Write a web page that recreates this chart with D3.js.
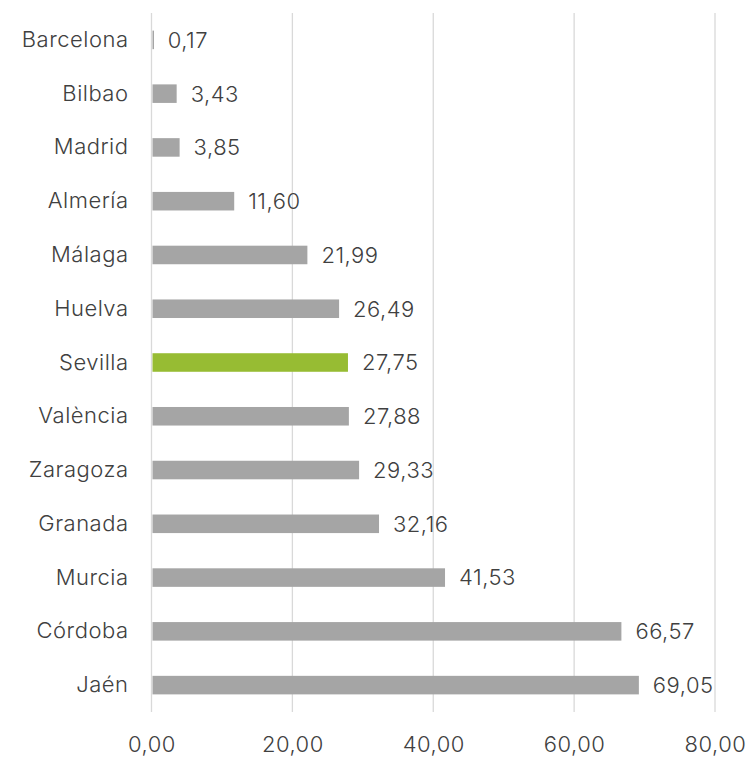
<!DOCTYPE html>
<html>
<head>
<meta charset="utf-8">
<script src="https://cdn.jsdelivr.net/npm/d3@7"></script>
<style>
  body { margin: 0; background: #fff; }
  text { font-family: Inter, "Open Sans", sans-serif; font-weight: 300; fill: #404040; letter-spacing: 0.5px; }
</style>
</head>
<body>
<div id="chart"></div>
<script>
var cities = ["Barcelona", "Bilbao", "Madrid", "Almería", "Málaga", "Huelva", "Sevilla",
              "València", "Zaragoza", "Granada", "Murcia", "Córdoba", "Jaén"];
var values = [0.17, 3.43, 3.85, 11.60, 21.99, 26.49, 27.75, 27.88, 29.33, 32.16, 41.53, 66.57, 69.05];
var highlight = "Sevilla";
var xTicks = [0, 20, 40, 60, 80];

var data = cities.map((c, i) => ({city: c, value: values[i]}));

var width = 751,
    height = 757,
    margin = {top: 13, right: 36, bottom: 45, left: 151.5};

var svg = d3.select("#chart")
  .append("svg")
  .attr("width", width)
  .attr("height", height)
  .append("g")
  .attr("transform", `translate(${margin.left},${margin.top})`);

var innerW = width - margin.left - margin.right,
    innerH = height - margin.top - margin.bottom;

var x = d3.scaleLinear().domain([0, 80]).range([0, innerW]);
var y = d3.scaleBand().domain(cities).range([0, innerH]).paddingInner(0.655).paddingOuter(0.3275);

var fmt = d => d3.format(".2f")(d).replace(".", ",");

// gridlines
svg.selectAll(".grid")
  .data(xTicks)
  .enter().append("line")
  .attr("class", "grid")
  .attr("x1", d => x(d)).attr("x2", d => x(d))
  .attr("y1", 0).attr("y2", innerH)
  .attr("stroke", "#d9d9d9")
  .attr("stroke-width", 1.3);

// bars
svg.selectAll(".bar")
  .data(data)
  .enter().append("rect")
  .attr("class", "bar")
  .attr("x", x(0) + 1)
  .attr("y", d => y(d.city))
  .attr("width", d => Math.max(x(d.value) - x(0), 1.5))
  .attr("height", y.bandwidth())
  .attr("fill", d => d.city === highlight ? "#97bc33" : "#a5a5a5");

// value labels
svg.selectAll(".val")
  .data(data)
  .enter().append("text")
  .attr("class", "val")
  .attr("x", d => x(d.value) + 15)
  .attr("y", d => y(d.city) + y.bandwidth() / 2)
  .attr("dy", "0.36em")
  .style("font-size", "22px")
  .text(d => fmt(d.value));

// category axis
var yAxis = svg.append("g")
  .call(d3.axisLeft(y).tickSize(0).tickPadding(23));
yAxis.select(".domain").remove();
yAxis.selectAll("text")
  .style("font-size", "22px")
  .style("font-family", null)
  .attr("fill", "#404040");

// value axis
var xAxis = svg.append("g")
  .attr("transform", `translate(0,${innerH})`)
  .call(d3.axisBottom(x).tickValues(xTicks).tickSize(0).tickPadding(24).tickFormat(fmt));
xAxis.select(".domain").remove();
xAxis.selectAll("text")
  .style("font-size", "22px")
  .style("font-family", null)
  .attr("fill", "#404040");
</script>
</body>
</html>
